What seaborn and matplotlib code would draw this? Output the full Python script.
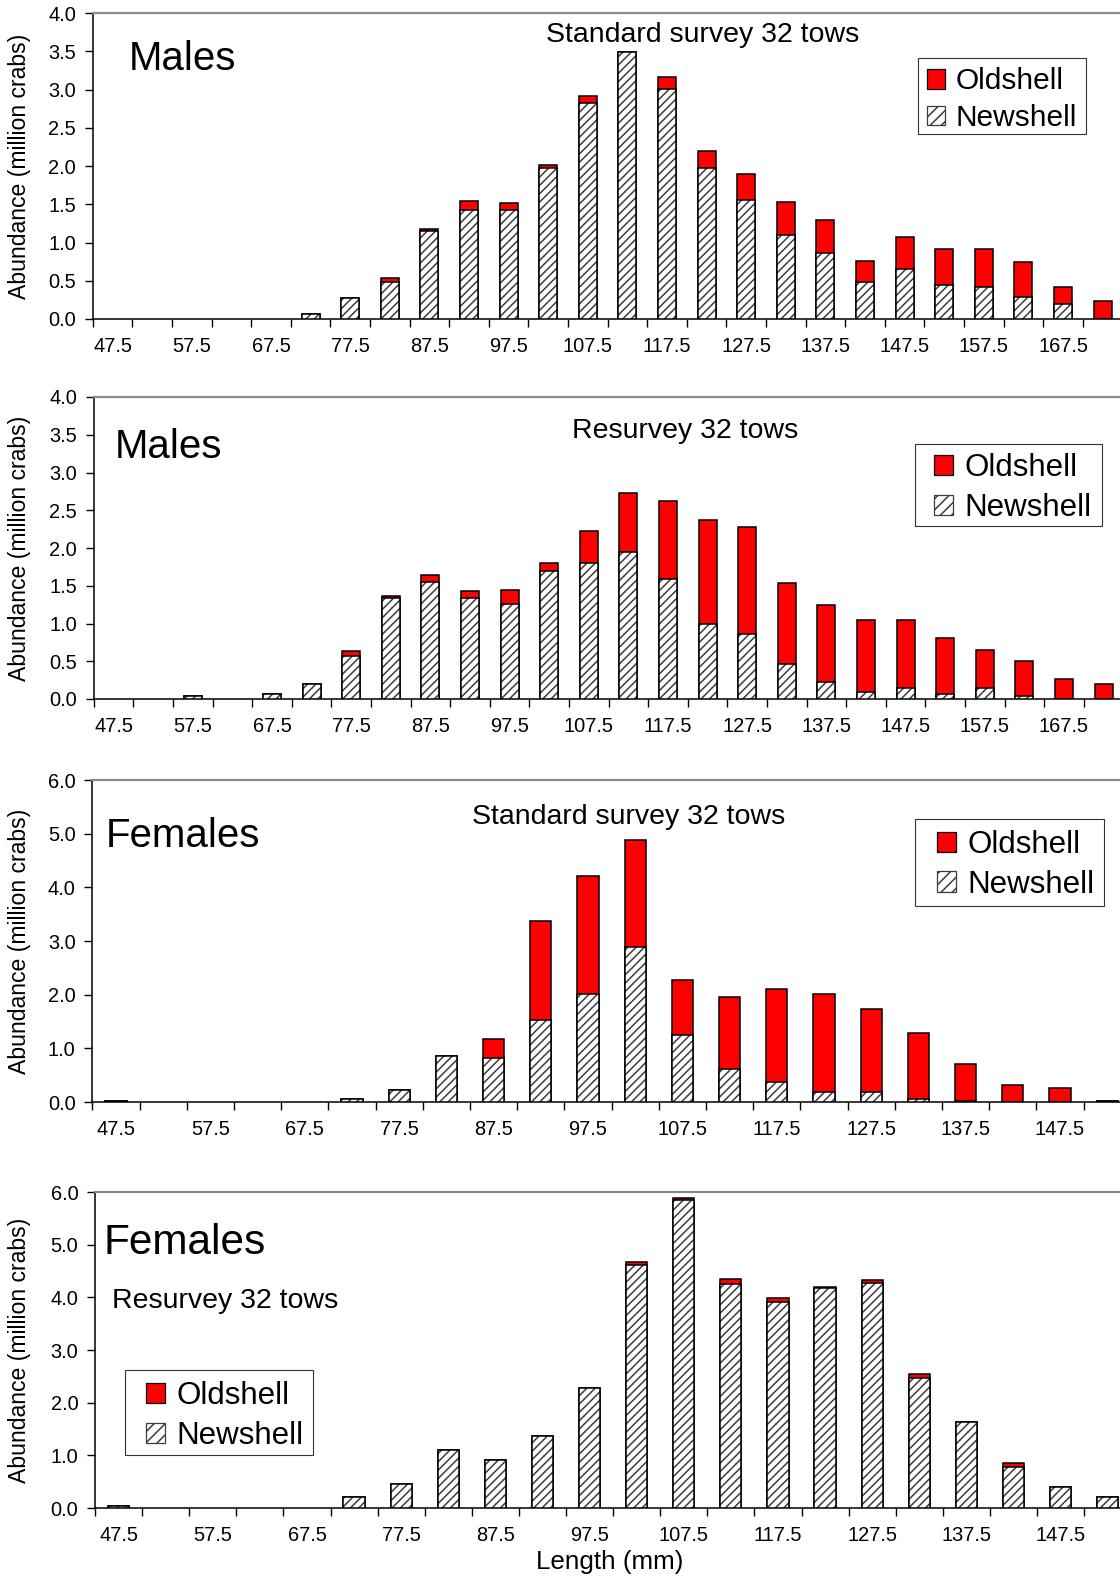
import matplotlib
matplotlib.use("Agg")
import matplotlib.pyplot as plt
import numpy as np
import pandas as pd
import seaborn as sns
from matplotlib.patches import Patch, Rectangle
from matplotlib.ticker import FormatStrFormatter

# Carapace length bins (mm)
male_lengths = ["47.5", "52.5", "57.5", "62.5", "67.5", "72.5", "77.5", "82.5",
                "87.5", "92.5", "97.5", "102.5", "107.5", "112.5", "117.5", "122.5",
                "127.5", "132.5", "137.5", "142.5", "147.5", "152.5", "157.5",
                "162.5", "167.5", "172.5"]
female_lengths = ["47.5", "52.5", "57.5", "62.5", "67.5", "72.5", "77.5", "82.5",
                  "87.5", "92.5", "97.5", "102.5", "107.5", "112.5", "117.5", "122.5",
                  "127.5", "132.5", "137.5", "142.5", "147.5", "152.5"]

# Abundance (million crabs) - males, standard survey
male_std_new = [0, 0, 0, 0, 0, 0.07, 0.28, 0.48, 1.15, 1.42, 1.43, 1.97, 2.83, 3.49,
                3.01, 1.97, 1.56, 1.10, 0.86, 0.49, 0.66, 0.45, 0.42, 0.29, 0.20, 0.00]
male_std_old = [0, 0, 0, 0, 0, 0, 0, 0.06, 0.03, 0.12, 0.08, 0.04, 0.09, 0.00,
                0.15, 0.23, 0.33, 0.43, 0.43, 0.27, 0.41, 0.47, 0.50, 0.46, 0.22, 0.24]

# Males, resurvey
male_re_new = [0, 0, 0.04, 0, 0.06, 0.20, 0.57, 1.34, 1.55, 1.34, 1.26, 1.70, 1.80, 1.95,
               1.59, 0.99, 0.86, 0.47, 0.23, 0.09, 0.15, 0.06, 0.15, 0.035, 0, 0]
male_re_old = [0, 0, 0, 0, 0, 0, 0.06, 0.02, 0.09, 0.09, 0.19, 0.10, 0.42, 0.78,
               1.03, 1.38, 1.42, 1.06, 1.01, 0.95, 0.89, 0.75, 0.50, 0.465, 0.27, 0.20]

# Females, standard survey
female_std_new = [0.02, 0, 0, 0, 0, 0.06, 0.23, 0.86, 0.82, 1.53, 2.02, 2.89, 1.25, 0.62,
                  0.37, 0.19, 0.19, 0.05, 0.02, 0, 0, 0.02]
female_std_old = [0, 0, 0, 0, 0, 0, 0, 0, 0.35, 1.85, 2.19, 2.00, 1.02, 1.34,
                  1.73, 1.83, 1.55, 1.23, 0.69, 0.31, 0.26, 0]

# Females, resurvey
female_re_new = [0.03, 0, 0, 0, 0, 0.20, 0.46, 1.11, 0.91, 1.36, 2.28, 4.61, 5.85, 4.25,
                 3.91, 4.17, 4.28, 2.47, 1.64, 0.78, 0.40, 0.20]
female_re_old = [0, 0, 0, 0, 0, 0, 0, 0, 0, 0, 0, 0.07, 0.04, 0.10,
                 0.07, 0.03, 0.04, 0.07, 0, 0.07, 0, 0]

sns.set_theme(style="ticks")
plt.rcParams["font.family"] = ["Liberation Sans", "DejaVu Sans"]
plt.rcParams["hatch.linewidth"] = 1.1

W, H = 1120, 1577
fig = plt.figure(figsize=(W / 100, H / 100), dpi=100)

HATCH = "////"
HATCH_COLOR = "#3c3c3c"
BAR_W = 0.45
EDGE_LW = 1.1


def px_axes(left, top, nbins, bin_px, bottom):
    right = left + nbins * bin_px
    return fig.add_axes([left / W, 1 - bottom / H, (right - left) / W, (bottom - top) / H]), left, right


def fig_text(x, y, s, size, ha="left"):
    fig.text(x / W, 1 - y / H, s, fontsize=size, ha=ha, va="baseline", color="black")


def draw_panel(ax, left_px, right_px, lengths, new, old, ymax, ystep,
               legend_xy, legend_size, frame_box):
    total = [n + o for n, o in zip(new, old)]
    df = pd.DataFrame({"Length": lengths, "Total": total, "Newshell": new})
    # empty bins get no bar at all
    df = df.replace(0, np.nan)
    # full bar in red (oldshell sits on top), then newshell hatched over its lower part
    sns.barplot(data=df, x="Length", y="Total", order=lengths, color="#ff0000",
                saturation=1, width=BAR_W, edgecolor="black", linewidth=EDGE_LW,
                errorbar=None, ax=ax, zorder=2)
    sns.barplot(data=df, x="Length", y="Newshell", order=lengths, color="white",
                saturation=1, width=BAR_W, edgecolor=HATCH_COLOR, linewidth=0,
                hatch=HATCH, errorbar=None, ax=ax, zorder=3)
    sns.barplot(data=df, x="Length", y="Newshell", order=lengths, color="black",
                fill=False, width=BAR_W, linewidth=EDGE_LW, errorbar=None, ax=ax, zorder=4)

    n = len(lengths)
    ax.set_xlim(-0.5, n - 0.5)
    ax.set_ylim(0, ymax)
    ax.set_xlabel("")
    ax.set_ylabel("")

    # tick marks at bin boundaries, labels on every other bin
    ax.set_xticks(np.arange(n + 1) - 0.5)
    ax.set_xticklabels([""] * (n + 1))
    ax.set_xticks(np.arange(0, n, 2), minor=True)
    ax.set_xticklabels(lengths[::2], minor=True)
    ax.tick_params(axis="x", which="major", direction="out", length=6, width=1,
                   color="black", bottom=True)
    ax.tick_params(axis="x", which="minor", length=0, pad=13, labelsize=14.4,
                   labelcolor="black", bottom=True)

    ax.set_yticks(np.arange(0, ymax + 1e-9, ystep))
    ax.yaxis.set_major_formatter(FormatStrFormatter("%.1f"))
    ax.tick_params(axis="y", direction="out", length=6, width=1, color="black",
                   pad=6, labelsize=14.4, labelcolor="black", left=True)

    for side in ("left", "bottom"):
        ax.spines[side].set_color("black")
        ax.spines[side].set_linewidth(1.1)
    ax.spines["top"].set_color("#8a8a8a")
    ax.spines["top"].set_linewidth(1.6)
    ax.spines["right"].set_visible(False)
    ax.set_facecolor("white")
    ax.grid(False)

    ax.set_ylabel("Abundance (million crabs)", fontsize=16.6, color="black", va="center")
    ax.yaxis.set_label_coords((20 - left_px) / (right_px - left_px), 0.5)

    # legend frame drawn as its own box so its padding can be set freely
    x0, y0, x1, y1 = frame_box
    ax.add_patch(Rectangle((x0 / W, 1 - y1 / H), (x1 - x0) / W, (y1 - y0) / H,
                           transform=fig.transFigure, facecolor="white",
                           edgecolor="#333333", linewidth=0.8, clip_on=False, zorder=5))

    handles = [
        Patch(facecolor="#ff0000", edgecolor="black", linewidth=0.9, label="Oldshell"),
        Patch(facecolor="white", edgecolor=HATCH_COLOR, hatch="///", linewidth=0.9,
              label="Newshell"),
    ]
    leg = ax.legend(handles=handles, loc="upper left",
                    bbox_to_anchor=(legend_xy[0] / W, 1 - legend_xy[1] / H),
                    bbox_transform=fig.transFigure, fontsize=legend_size,
                    frameon=False, handlelength=0.62, handleheight=0.62,
                    handletextpad=0.35, borderpad=0.28, labelspacing=0.3,
                    borderaxespad=0)
    leg.set_zorder(6)
    for t in leg.get_texts():
        t.set_color("black")


# Panel 1: males, standard survey
ax1, l1, r1 = px_axes(92.8, 13, 26, 39.6, 319)
draw_panel(ax1, l1, r1, male_lengths, male_std_new, male_std_old, 4.0, 0.5,
           (918.6, 59), 21.5, (918, 58, 1086, 134))
fig_text(129, 70, "Males", 29)
fig_text(703, 41.5, "Standard survey 32 tows", 20.5, ha="center")

# Panel 2: males, resurvey
ax2, l2, r2 = px_axes(93.8, 397, 26, 39.6, 699)
draw_panel(ax2, l2, r2, male_lengths, male_re_new, male_re_old, 4.0, 0.5,
           (925, 444.5), 22.5, (915, 444, 1102, 526))
fig_text(114.6, 458, "Males", 29)
fig_text(685, 438, "Resurvey 32 tows", 20.5, ha="center")

# Panel 3: females, standard survey
ax3, l3, r3 = px_axes(92.4, 780, 22, 47.2, 1102)
draw_panel(ax3, l3, r3, female_lengths, female_std_new, female_std_old, 6.0, 1.0,
           (928, 821.5), 22.5, (915, 819, 1104, 906))
fig_text(105.6, 847, "Females", 29)
fig_text(629, 823.5, "Standard survey 32 tows", 20.5, ha="center")

# Panel 4: females, resurvey
ax4, l4, r4 = px_axes(95, 1192, 22, 47.1, 1508)
draw_panel(ax4, l4, r4, female_lengths, female_re_new, female_re_old, 6.0, 1.0,
           (137, 1372.5), 22.5, (125, 1370, 313, 1455))
fig_text(103.6, 1254, "Females", 30.5)
fig_text(111.6, 1308, "Resurvey 32 tows", 20.5)
fig_text(610, 1569, "Length (mm)", 18.7, ha="center")

fig.savefig("out.png", dpi=100, facecolor="white")
